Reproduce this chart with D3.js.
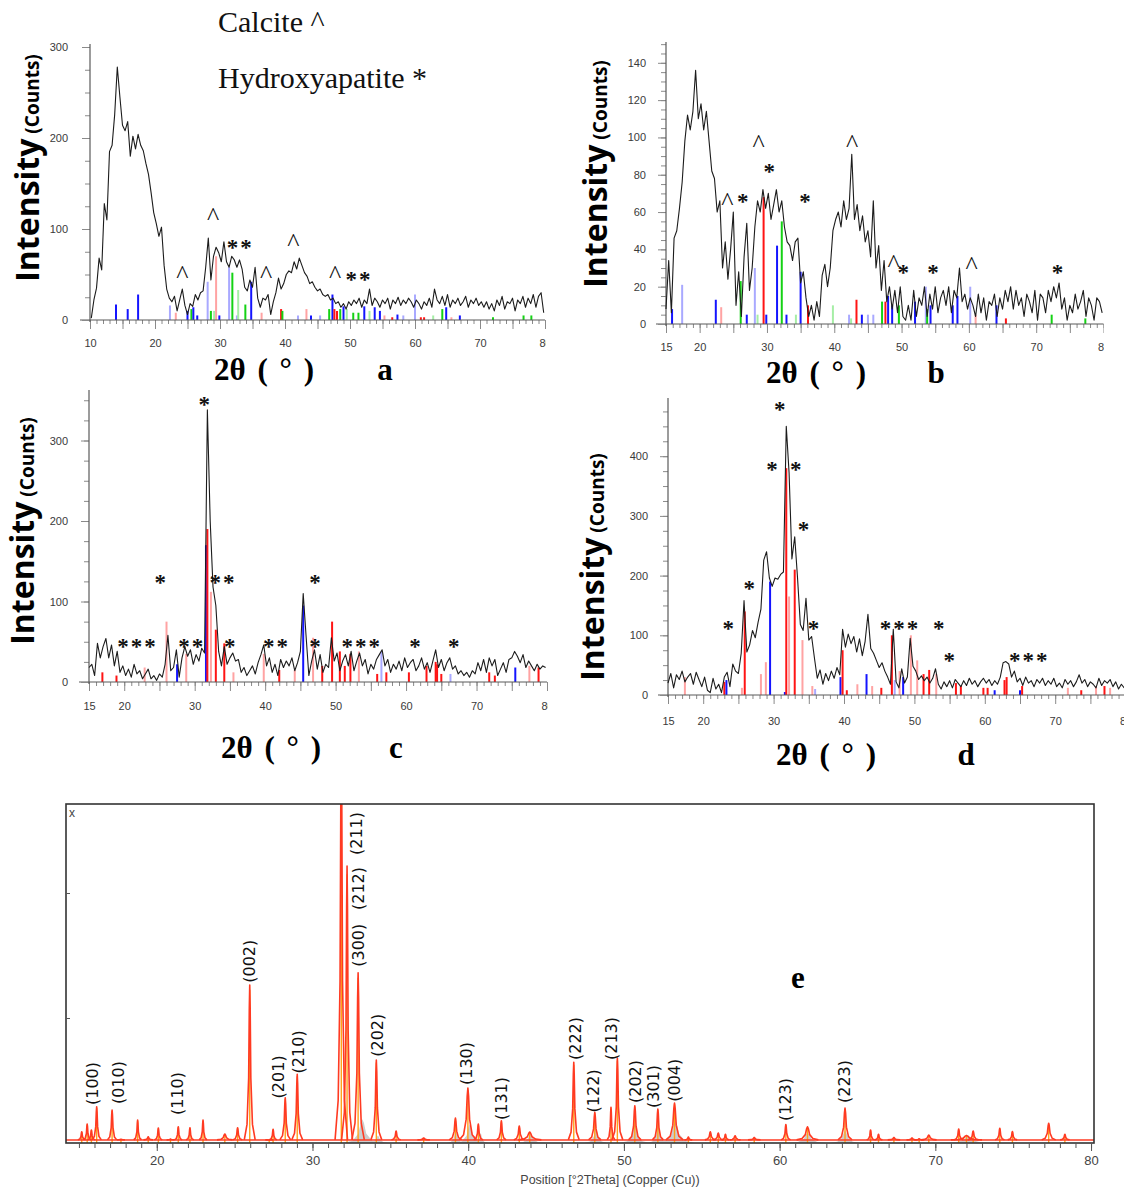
<!DOCTYPE html>
<html>
<head>
<meta charset="utf-8">
<script src="https://cdn.jsdelivr.net/npm/d3@7"></script>
<style>
  body { margin: 0; background: #fff; }
  svg { display: block; }
</style>
</head>
<body>
<svg id="fig" width="1124" height="1191"></svg>
<script>
// ---- data ---------------------------------------------------------------

// all four measured patterns are sampled every 0.4 degrees 2-theta
const STEP = 0.4;

// (a)
const aTheta0 = 10.2;
const aCounts = [
  2, 22, 35, 68, 55, 128, 110, 185, 192, 226,
  278, 245, 214, 208, 218, 180, 202, 188, 204, 192,
  186, 172, 160, 140, 118, 106, 92, 102, 60, 34,
  24, 20, 26, 10, 22, 34, 16, 6, 18, 15,
  28, 22, 30, 32, 58, 90, 44, 70, 80, 74,
  64, 86, 64, 58, 70, 66, 58, 66, 56, 36,
  32, 44, 36, 58, 24, 14, 24, 22, 28, 6,
  20, 30, 46, 34, 40, 50, 54, 52, 64, 56,
  68, 60, 52, 48, 40, 42, 36, 32, 34, 28,
  26, 28, 22, 24, 18, 20, 14, 18, 12, 20,
  16, 22, 18, 24, 14, 22, 18, 34, 16, 24,
  20, 14, 22, 18, 24, 12, 22, 18, 25, 16,
  22, 18, 24, 20, 14, 22, 18, 12, 20, 16,
  24, 14, 34, 22, 18, 26, 16, 28, 14, 22,
  18, 24, 16, 20, 26, 14, 22, 18, 24, 16,
  20, 14, 20, 12, 18, 10, 22, 16, 26, 12,
  20, 18, 24, 10, 22, 18, 26, 14, 24, 18,
  28, 14, 26, 30, 8
];

// (b)
const bTheta0 = 15.0;
const bCounts = [
  8, 34, 6, 46, 50, 62, 76, 98, 112, 104,
  114, 136, 110, 118, 104, 114, 98, 82, 78, 60,
  66, 30, 44, 24, 40, 60, 10, 28, 4, 36,
  54, 18, 30, 52, 66, 60, 72, 62, 70, 56,
  64, 72, 60, 66, 52, 44, 42, 34, 44, 46,
  22, 28, 14, 4, 10, 2, 12, 4, 26, 32,
  20, 30, 50, 56, 60, 52, 66, 56, 62, 91,
  56, 64, 50, 58, 44, 50, 36, 66, 30, 42,
  18, 34, 12, 20, 8, 18, 6, 20, 4, 2,
  10, 2, 18, 4, 14, 10, 20, 4, 16, 8,
  20, 6, 14, 18, 10, 20, 6, 18, 14, 30,
  12, 16, 8, 14, 10, 4, 16, 6, 14, 2,
  12, 10, 16, 4, 14, 8, 18, 12, 20, 8,
  18, 10, 14, 4, 16, 12, 6, 18, 2, 16,
  14, 6, 18, 12, 20, 14, 22, 8, 14, 2,
  10, 6, 16, 8, 12, 18, 4, 14, 10, 2,
  14, 12, 6
];

// (c)
const cTheta0 = 15.0;
const cCounts = [
  18, 22, 8, 48, 30, 44, 54, 30, 46, 20,
  38, 12, 20, 8, 16, 6, 22, 10, 14, 4,
  10, 16, 4, 8, 2, 10, 6, 22, 58, 14,
  18, 40, 6, 30, 44, 32, 40, 22, 34, 26,
  42, 36, 338, 200, 118, 95, 38, 20, 44, 22,
  30, 36, 26, 28, 12, 18, 8, 14, 20, 10,
  24, 34, 46, 20, 30, 12, 22, 8, 28, 18,
  26, 20, 30, 14, 24, 38, 110, 58, 8, 26,
  40, 16, 34, 12, 22, 18, 55, 26, 36, 14,
  26, 34, 20, 38, 14, 26, 36, 20, 28, 10,
  22, 16, 28, 34, 40, 20, 28, 12, 22, 16,
  26, 14, 30, 18, 24, 28, 14, 20, 30, 16,
  24, 12, 26, 40, 18, 28, 14, 24, 30, 16,
  20, 10, 14, 8, 12, 6, 14, 10, 24, 14,
  28, 12, 30, 20, 28, 8, 16, 24, 12, 28,
  30, 38, 32, 24, 34, 18, 26, 20, 14, 22,
  16, 20, 18
];

// (d)
const dTheta0 = 15.0;
const dCounts = [
  20, 36, 12, 34, 26, 40, 22, 30, 36, 18,
  38, 26, 14, 30, 8, 4, 28, 10, 18, 4,
  30, 38, 14, 52, 40, 36, 70, 158, 72, 84,
  108, 96, 122, 144, 226, 240, 196, 182, 196, 194,
  202, 206, 450, 372, 228, 265, 196, 118, 108, 162,
  92, 98, 62, 28, 42, 18, 36, 24, 40, 28,
  46, 34, 110, 80, 102, 86, 98, 72, 94, 66,
  90, 135, 78, 70, 58, 46, 54, 40, 30, 18,
  110, 22, 12, 44, 20, 30, 95, 48, 40, 26,
  32, 24, 30, 20, 28, 44, 18, 10, 22, 14,
  24, 12, 26, 20, 14, 24, 16, 28, 18, 24,
  14, 22, 28, 20, 26, 16, 24, 18, 30, 54,
  56, 52, 30, 40, 22, 28, 16, 30, 20, 24,
  14, 26, 20, 28, 16, 24, 18, 28, 14, 20,
  12, 26, 18, 24, 14, 22, 34, 20, 26, 14,
  22, 18, 12, 28, 16, 24, 20, 26, 14, 22,
  10, 18, 12
];

// reference stick patterns: [2theta, counts, phase]
const aSticks = [
  [14.0, 17, "b"], [15.8, 12, "b"], [17.4, 28, "b"], [22.3, 16, "lb"], [23.2, 8, "lr"],
  [25.0, 10, "b"], [25.6, 12, "g"], [25.9, 14, "b"], [26.5, 5, "b"], [28.1, 42, "lb"],
  [28.6, 10, "g"], [29.1, 10, "lg"], [29.4, 70, "lr"], [29.9, 5, "b"], [31.4, 58, "lb"],
  [31.9, 52, "g"], [32.6, 5, "lb"], [32.8, 33, "lg"], [33.9, 17, "g"], [34.8, 42, "b"],
  [36.4, 8, "lr"], [39.4, 12, "r"], [39.6, 10, "g"], [42.0, 5, "lb"], [43.3, 12, "lr"],
  [44.0, 5, "b"], [45.4, 5, "lb"], [46.8, 12, "g"], [47.3, 28, "b"], [47.6, 12, "r"],
  [48.0, 10, "r"], [48.5, 12, "g"], [49.0, 15, "b"], [49.5, 12, "lg"], [50.5, 8, "g"],
  [51.3, 8, "g"], [52.2, 15, "b"], [53.0, 10, "lg"], [53.8, 14, "b"], [54.6, 10, "b"],
  [55.3, 5, "lr"], [56.5, 3, "r"], [57.3, 6, "b"], [58.2, 5, "lb"], [60.0, 28, "lb"],
  [60.9, 3, "r"], [61.4, 3, "r"], [62.8, 5, "lg"], [64.2, 12, "g"], [64.8, 14, "b"],
  [65.6, 3, "lr"], [66.9, 5, "b"], [72.0, 3, "g"], [76.7, 5, "g"], [77.9, 5, "g"]
];
const bSticks = [
  [15.9, 8, "b"], [17.4, 21, "lb"], [22.4, 13, "b"], [23.2, 9, "lr"], [26.1, 23, "g"],
  [27.0, 5, "b"], [28.2, 30, "lb"], [28.6, 5, "lg"], [29.5, 68, "r"], [29.9, 5, "b"],
  [31.5, 42, "b"], [32.2, 55, "g"], [32.9, 5, "b"], [34.3, 5, "lg"], [35.0, 28, "b"],
  [36.1, 10, "r"], [39.8, 10, "lg"], [42.2, 5, "lb"], [42.5, 3, "lg"], [43.3, 13, "r"],
  [44.1, 5, "b"], [45.0, 5, "lb"], [45.8, 5, "lb"], [47.1, 12, "g"], [47.6, 12, "r"],
  [48.0, 15, "b"], [48.6, 10, "b"], [49.6, 10, "g"], [52.0, 12, "b"], [53.6, 20, "lb"],
  [53.8, 8, "g"], [54.3, 10, "b"], [57.6, 10, "b"], [58.3, 15, "b"], [60.2, 20, "lb"],
  [61.0, 5, "lr"], [64.1, 10, "b"], [65.5, 3, "r"], [72.3, 5, "g"], [77.3, 3, "g"]
];
const cSticks = [
  [16.9, 12, "r"], [18.9, 8, "r"], [22.9, 18, "lr"], [26.0, 75, "lr"], [27.5, 22, "b"],
  [28.8, 35, "lr"], [31.6, 170, "b"], [31.8, 190, "r"], [32.3, 112, "lr"], [33.0, 65, "r"],
  [34.2, 48, "r"], [35.5, 12, "lr"], [39.8, 35, "lr"], [42.0, 15, "r"], [44.2, 15, "lr"],
  [45.4, 95, "b"], [46.8, 55, "lr"], [48.1, 20, "r"], [49.5, 75, "r"], [50.6, 38, "r"],
  [51.3, 20, "r"], [52.1, 35, "r"], [53.3, 38, "lr"], [55.9, 10, "r"], [56.5, 38, "lb"],
  [57.2, 12, "r"], [60.4, 12, "r"], [62.9, 20, "r"], [64.2, 25, "r"], [64.4, 22, "r"],
  [65.0, 10, "r"], [66.3, 10, "lb"], [71.8, 12, "r"], [72.6, 8, "r"], [75.5, 18, "b"],
  [77.5, 20, "lr"], [78.8, 18, "r"]
];
const dSticks = [
  [17.4, 30, "lr"], [23.0, 22, "r"], [23.3, 25, "b"], [25.5, 12, "lr"], [25.9, 140, "r"],
  [28.2, 35, "lr"], [28.9, 55, "lr"], [29.5, 190, "b"], [31.6, 5, "b"], [31.8, 380, "r"],
  [32.2, 165, "lr"], [33.0, 210, "r"], [34.1, 92, "lr"], [35.5, 15, "lr"], [35.9, 10, "lb"],
  [39.5, 30, "b"], [39.8, 75, "r"], [40.4, 8, "r"], [41.9, 18, "lr"], [43.2, 35, "b"],
  [44.0, 15, "lr"], [45.3, 12, "r"], [46.8, 100, "r"], [47.2, 25, "lb"], [47.9, 40, "lr"],
  [48.4, 30, "b"], [49.5, 100, "lr"], [50.4, 58, "lr"], [51.3, 35, "r"], [52.1, 42, "r"],
  [53.1, 35, "lr"], [55.9, 20, "r"], [56.6, 15, "r"], [59.8, 12, "r"], [60.4, 12, "r"],
  [61.4, 8, "b"], [62.8, 25, "r"], [63.1, 30, "r"], [65.0, 8, "b"], [65.3, 15, "r"],
  [71.8, 12, "lr"], [73.7, 8, "r"], [75.8, 15, "lr"], [77.0, 15, "r"], [77.8, 12, "lr"]
];

// phase markers: [symbol, 2theta, counts]
const aMarks = [["^", 24.2, 57], ["^", 28.95, 121], ["**", 33.1, 82], ["^", 37.1, 57],
  ["^", 41.3, 92], ["^", 47.7, 57], ["**", 51.4, 47]];
const bMarks = [["^", 28.75, 100], ["*", 30.5, 83], ["^", 24.1, 69], ["*", 26.55, 67],
  ["*", 35.8, 67], ["^", 42.65, 100], ["^", 48.8, 36], ["*", 50.4, 29], ["*", 54.8, 29],
  ["^", 60.4, 35], ["*", 73.3, 29]];
const cMarks = [["*", 31.5, 348], ["*", 25.27, 127], ["**", 34.0, 127], ["*", 47.2, 127],
  ["***", 21.9, 47], ["**", 29.6, 47], ["*", 35.1, 47], ["**", 41.6, 47], ["*", 47.2, 47],
  ["***", 53.7, 47], ["*", 61.4, 47], ["*", 66.9, 47]];
const dMarks = [["*", 31.0, 483], ["*", 29.9, 382], ["*", 33.3, 382], ["*", 34.4, 282],
  ["*", 26.7, 183], ["*", 23.7, 116], ["*", 35.8, 116], ["***", 47.95, 116], ["*", 53.6, 116],
  ["*", 55.1, 62], ["***", 66.3, 62]];

// tick labels
const xLabelsA = [10, 20, 30, 40, 50, 60, 70, 80];
const xLabelsBCD = [15, 20, 30, 40, 50, 60, 70, 80];
const yTicksA = [0, 100, 200, 300];
const yTicksB = [0, 20, 40, 60, 80, 100, 120, 140];
const yTicksC = [0, 100, 200, 300];
const yTicksD = [0, 100, 200, 300, 400];
const xLabelsE = [20, 30, 40, 50, 60, 70, 80];

// (e) reference pattern: [2theta, height, half width]
const ePeaks = [
  [15.18, 90, 0.05], [15.53, 152, 0.05], [15.80, 104, 0.05], [16.14, 290, 0.06],
  [17.13, 264, 0.06], [17.70, 30, 0.05], [18.77, 184, 0.05], [19.45, 50, 0.06],
  [20.10, 120, 0.05], [20.88, 32, 0.05], [21.38, 130, 0.05], [22.13, 122, 0.05],
  [22.97, 184, 0.05], [24.37, 72, 0.1], [25.19, 122, 0.06], [25.97, 1264, 0.07],
  [27.22, 24, 0.05], [27.47, 110, 0.05], [28.25, 362, 0.07], [29.02, 550, 0.07],
  [31.85, 3200, 0.08], [32.22, 2216, 0.07], [32.93, 1362, 0.08], [34.10, 664, 0.07],
  [35.37, 96, 0.06], [37.14, 40, 0.08], [39.18, 200, 0.08], [39.98, 440, 0.11],
  [40.65, 152, 0.06], [42.13, 178, 0.06], [43.28, 136, 0.07], [43.95, 88, 0.15],
  [46.78, 645, 0.07], [48.13, 245, 0.08], [49.17, 285, 0.05], [49.58, 680, 0.07],
  [50.70, 298, 0.08], [52.18, 272, 0.07], [53.25, 320, 0.11], [54.14, 48, 0.05],
  [55.55, 90, 0.07], [56.06, 80, 0.07], [56.52, 70, 0.05], [57.14, 58, 0.07],
  [58.37, 44, 0.08], [60.40, 148, 0.06], [61.79, 130, 0.14], [64.20, 280, 0.09],
  [65.84, 104, 0.05], [66.35, 70, 0.05], [67.34, 44, 0.08], [68.50, 40, 0.07],
  [68.96, 34, 0.06], [69.58, 64, 0.1], [71.50, 112, 0.06], [72.00, 60, 0.2],
  [72.43, 96, 0.07], [74.14, 118, 0.06], [74.95, 92, 0.06], [77.28, 158, 0.09],
  [78.32, 70, 0.06]
];
const eGray = [
  [33.2, 190, 0.25], [34.2, 60, 0.15], [39.2, 100, 0.12], [40.1, 150, 0.2], [40.8, 80, 0.1],
  [44.0, 70, 0.2], [48.2, 120, 0.15], [50.7, 150, 0.2], [52.2, 130, 0.15], [53.3, 180, 0.25],
  [61.8, 80, 0.25], [64.2, 100, 0.2], [72.1, 60, 0.3]
];
const eBase = 25;
// hkl labels: [text, 2theta, intensity at label start]
const eLabels = [
  ["(100)", 15.87, 304], ["(010)", 17.53, 312], ["(110)", 21.3, 224], ["(002)", 25.92, 1282],
  ["(201)", 27.78, 357], ["(210)", 29.07, 557], ["(211)", 32.81, 2304], ["(212)", 32.92, 1864],
  ["(300)", 32.92, 1410], ["(202)", 34.15, 690], ["(130)", 39.88, 464], ["(131)", 42.1, 184],
  ["(222)", 46.89, 664], ["(122)", 48.06, 245], ["(213)", 49.16, 664], ["(202)", 50.71, 320],
  ["(301)", 51.89, 280], ["(004)", 53.24, 330], ["(123)", 60.33, 176], ["(223)", 64.14, 320]
];

// ---- drawing --------------------------------------------------------------

const svg = d3.select("#fig");
const defs = svg.append("defs");
const serif = "'Liberation Serif', 'Times New Roman', serif";
const sans = "'Liberation Sans', Arial, sans-serif";

const stickColor = { b: "#1414ff", lb: "#a9a9ff", r: "#ff1414", lr: "#ffa3a3", g: "#14d214", lg: "#a6eea6" };

const panels = [
  { id: "a", theta0: aTheta0, counts: aCounts, sticks: aSticks, marks: aMarks,
    xDomain: [10, 80], xRange: [90, 545], yDomain: [0, 300], yRange: [320, 47], axisTop: 44,
    xLabels: xLabelsA, yTicks: yTicksA, yMinor: 25, xPad: 19, yPad: 22, clip: [0, 546],
    ylab: [39, 168], title: [264, 380], letter: ["a", 385, 380] },
  { id: "b", theta0: bTheta0, counts: bCounts, sticks: bSticks, marks: bMarks,
    xDomain: [15, 80], xRange: [666, 1103.5], yDomain: [0, 140], yRange: [324, 62.8], axisTop: 42,
    xLabels: xLabelsBCD, yTicks: yTicksB, yMinor: 5, xPad: 19, yPad: 20, clip: [560, 1104],
    ylab: [607, 174], title: [816, 383], letter: ["b", 936, 383] },
  { id: "c", theta0: cTheta0, counts: cCounts, sticks: cSticks, marks: cMarks,
    xDomain: [15, 80], xRange: [89, 547], yDomain: [0, 300], yRange: [682, 440.5], axisTop: 390,
    xLabels: xLabelsBCD, yTicks: yTicksC, yMinor: 25, xPad: 20, yPad: 21, clip: [0, 548],
    ylab: [34, 531], title: [271, 758], letter: ["c", 396, 758] },
  { id: "d", theta0: dTheta0, counts: dCounts, sticks: dSticks, marks: dMarks,
    xDomain: [15, 80], xRange: [668, 1125.6], yDomain: [0, 400], yRange: [695, 456.2], axisTop: 398,
    xLabels: xLabelsBCD, yTicks: yTicksD, yMinor: 25, xPad: 22, yPad: 20, clip: [560, 1124],
    ylab: [604, 567], title: [826, 765], letter: ["d", 966, 765] }
];

function styleTicks(sel) {
  sel.select(".domain").remove();
  sel.selectAll(".tick line").attr("stroke", "#8a8a8a");
  sel.selectAll(".tick text").attr("fill", "#3a3a3a")
    .style("font-family", sans).style("font-size", "11px");
}

function drawPanel(p) {
  const x = d3.scaleLinear().domain(p.xDomain).range(p.xRange);
  const y = d3.scaleLinear().domain(p.yDomain).range(p.yRange);
  const y0 = y(0);

  defs.append("clipPath").attr("id", "clip-" + p.id).append("rect")
    .attr("x", p.clip[0]).attr("y", 0)
    .attr("width", p.clip[1] - p.clip[0]).attr("height", 800);

  const g = svg.append("g").attr("clip-path", `url(#clip-${p.id})`);

  // reference sticks
  g.append("g").selectAll("line").data(p.sticks).join("line")
    .attr("x1", d => x(d[0])).attr("x2", d => x(d[0]))
    .attr("y1", y0).attr("y2", d => y(d[1]))
    .attr("stroke", d => stickColor[d[2]]).attr("stroke-width", 2);

  // x axis: 1 deg ticks, longer every 5 deg, labels every 10
  const x1 = d3.range(Math.ceil(p.xDomain[0]), 80.5, 1);
  const x5 = x1.filter(v => v % 5 === 0);
  g.append("g").attr("transform", `translate(0,${y0})`)
    .call(d3.axisBottom(x).tickValues(x1).tickSize(4).tickFormat("")).call(styleTicks);
  g.append("g").attr("transform", `translate(0,${y0})`)
    .call(d3.axisBottom(x).tickValues(x5).tickSize(9).tickFormat("")).call(styleTicks);
  g.append("g").attr("transform", `translate(0,${y0})`)
    .call(d3.axisBottom(x).tickValues(p.xLabels).tickSize(0).tickPadding(p.xPad)).call(styleTicks);
  g.append("line")
    .attr("x1", p.xRange[0] - 10).attr("x2", p.xRange[1])
    .attr("y1", y0).attr("y2", y0).attr("stroke", "#5a5a5a").attr("stroke-width", 1.2);

  // y axis
  const topVal = y.invert(p.axisTop);
  const yMinor = d3.range(0, topVal, p.yMinor);
  g.append("g").attr("transform", `translate(${p.xRange[0]},0)`)
    .call(d3.axisLeft(y).tickValues(yMinor).tickSize(5).tickFormat("")).call(styleTicks);
  g.append("g").attr("transform", `translate(${p.xRange[0]},0)`)
    .call(d3.axisLeft(y).tickValues(p.yTicks).tickSize(8).tickFormat("")).call(styleTicks);
  g.append("g").attr("transform", `translate(${p.xRange[0]},0)`)
    .call(d3.axisLeft(y).tickValues(p.yTicks).tickSize(0).tickPadding(p.yPad)).call(styleTicks);
  g.append("line")
    .attr("x1", p.xRange[0]).attr("x2", p.xRange[0])
    .attr("y1", y0 + 2).attr("y2", p.axisTop).attr("stroke", "#5a5a5a").attr("stroke-width", 1.2);

  // measured pattern
  const line = d3.line()
    .x((d, i) => x(p.theta0 + i * STEP))
    .y(d => y(d));
  g.append("path").datum(p.counts)
    .attr("d", line).attr("fill", "none")
    .attr("stroke", "#1c1c1c").attr("stroke-width", 1.1).attr("stroke-linejoin", "round");

  // phase markers
  g.append("g").selectAll("text").data(p.marks).join("text")
    .attr("x", d => x(d[1])).attr("y", d => y(d[2]))
    .attr("dy", d => d[0][0] === "^" ? 15 : 10)
    .attr("text-anchor", "middle")
    .style("font-family", serif)
    .style("font-size", d => d[0][0] === "^" ? "26px" : "23px")
    .style("font-weight", d => d[0][0] === "^" ? 400 : 700)
    .style("letter-spacing", d => d[0][0] === "^" ? null : "2px")
    .attr("fill", "#111")
    .text(d => d[0]);

  // axis titles
  const yl = svg.append("text")
    .attr("transform", `translate(${p.ylab[0]},${p.ylab[1]}) rotate(-90)`)
    .attr("text-anchor", "middle")
    .style("font-family", "'Open Sans', sans-serif").style("font-weight", 700)
    .attr("fill", "#000");
  yl.append("tspan").style("font-size", "32px").text("Intensity");
  yl.append("tspan").style("font-size", "19px").text(" (Counts)");

  svg.append("text")
    .attr("x", p.title[0]).attr("y", p.title[1])
    .attr("text-anchor", "middle")
    .style("font-family", serif).style("font-weight", 700).style("font-size", "31px")
    .style("word-spacing", "4px")
    .attr("fill", "#000")
    .text("2θ ( ° )");

  svg.append("text")
    .attr("x", p.letter[1]).attr("y", p.letter[2])
    .attr("text-anchor", "middle")
    .style("font-family", serif).style("font-weight", 700).style("font-size", "31px")
    .attr("fill", "#000")
    .text(p.letter[0]);
}

panels.forEach(drawPanel);

// legend text at top of panel (a)
svg.append("text").attr("x", 218).attr("y", 32)
  .style("font-family", serif).style("font-size", "30px").attr("fill", "#111")
  .text("Calcite ^");
svg.append("text").attr("x", 218).attr("y", 88)
  .style("font-family", serif).style("font-size", "30px").attr("fill", "#111")
  .text("Hydroxyapatite *");

// ---- panel (e) ------------------------------------------------------------
const E = { left: 66, right: 1094, top: 804, bottom: 1143 };
const ex = d3.scaleLinear().domain([14.17, 80.19]).range([E.left, E.right]);
const ey = d3.scaleLinear().domain([0, 2712]).range([E.bottom, E.top]);

defs.append("clipPath").attr("id", "clip-e").append("rect")
  .attr("x", E.left).attr("y", E.top)
  .attr("width", E.right - E.left).attr("height", E.bottom - E.top);

// outline of a single reflection: [offset in half widths, fraction of height]
const SHAPE = [[-5, 0], [-2.5, 0.1], [-1, 0.4], [-0.4, 0.85], [0, 1], [0.4, 0.85], [1, 0.4], [2.5, 0.1], [5, 0]];
const peakLine = d3.line().x(s => s.x).y(s => s.y);
function outline(d, base) {
  return SHAPE.map(([k, f]) => ({ x: ex(d[0] + k * d[2]), y: ey(base + f * (d[1] - base)) }));
}

const eg = svg.append("g").attr("clip-path", "url(#clip-e)");

// grey residual areas
eg.append("g").selectAll("path").data(eGray).join("path")
  .attr("d", d => peakLine(outline(d, 0)) + "Z")
  .attr("fill", "#cdcdcd").attr("stroke", "none");

// orange reference sticks
eg.append("g").selectAll("line").data(ePeaks).join("line")
  .attr("x1", d => ex(d[0])).attr("x2", d => ex(d[0]))
  .attr("y1", ey(0)).attr("y2", d => ey(d[1] * 0.97))
  .attr("stroke", "#ffa21a").attr("stroke-width", 1.4);

// red pattern: baseline plus peaks
eg.append("line")
  .attr("x1", E.left).attr("x2", E.right)
  .attr("y1", ey(eBase)).attr("y2", ey(eBase))
  .attr("stroke", "#ff3a22").attr("stroke-width", 1.5);
eg.append("g").selectAll("path").data(ePeaks).join("path")
  .attr("d", d => peakLine(outline(d, eBase)))
  .attr("fill", "none").attr("stroke", "#ff3a22").attr("stroke-width", 1.6)
  .attr("stroke-linejoin", "round");

// frame
svg.append("rect")
  .attr("x", E.left).attr("y", E.top)
  .attr("width", E.right - E.left).attr("height", E.bottom - E.top)
  .attr("fill", "none").attr("stroke", "#333").attr("stroke-width", 1.6);

// axes of (e)
const eTicks = d3.range(15, 80.5, 1);
const eAx = svg.append("g").attr("transform", `translate(0,${E.bottom})`)
  .call(d3.axisBottom(ex).tickValues(eTicks).tickSize(5).tickFormat(""));
eAx.select(".domain").remove();
eAx.selectAll(".tick line").attr("stroke", "#555");
const eLab = svg.append("g").attr("transform", `translate(0,${E.bottom})`)
  .call(d3.axisBottom(ex).tickValues(xLabelsE).tickSize(8).tickPadding(5));
eLab.select(".domain").remove();
eLab.selectAll(".tick line").attr("stroke", "#555");
eLab.selectAll(".tick text").attr("fill", "#444")
  .style("font-family", sans).style("font-size", "13px");
const eLeft = svg.append("g").attr("transform", `translate(${E.left},0)`)
  .call(d3.axisRight(ey).tickValues([1000, 2000]).tickSize(4).tickFormat(""));
eLeft.select(".domain").remove();
eLeft.selectAll(".tick line").attr("stroke", "#555");

svg.append("text").attr("x", 610).attr("y", 1184)
  .attr("text-anchor", "middle")
  .style("font-family", sans).style("font-size", "12.5px").attr("fill", "#444")
  .text("Position [°2Theta] (Copper (Cu))");
svg.append("text").attr("x", 72).attr("y", 817)
  .attr("text-anchor", "middle")
  .style("font-family", sans).style("font-size", "12px").attr("fill", "#444")
  .text("x");

// hkl labels
svg.append("g").selectAll("text").data(eLabels).join("text")
  .attr("transform", d => `translate(${ex(d[1])},${ey(d[2])}) rotate(-90)`)
  .attr("dy", "0.36em")
  .style("font-family", "'DejaVu Sans', sans-serif").style("font-size", "16px")
  .attr("fill", "#111")
  .text(d => d[0]);

svg.append("text").attr("x", 798).attr("y", 988)
  .attr("text-anchor", "middle")
  .style("font-family", serif).style("font-weight", 700).style("font-size", "31px")
  .attr("fill", "#000")
  .text("e");
</script>
</body>
</html>
